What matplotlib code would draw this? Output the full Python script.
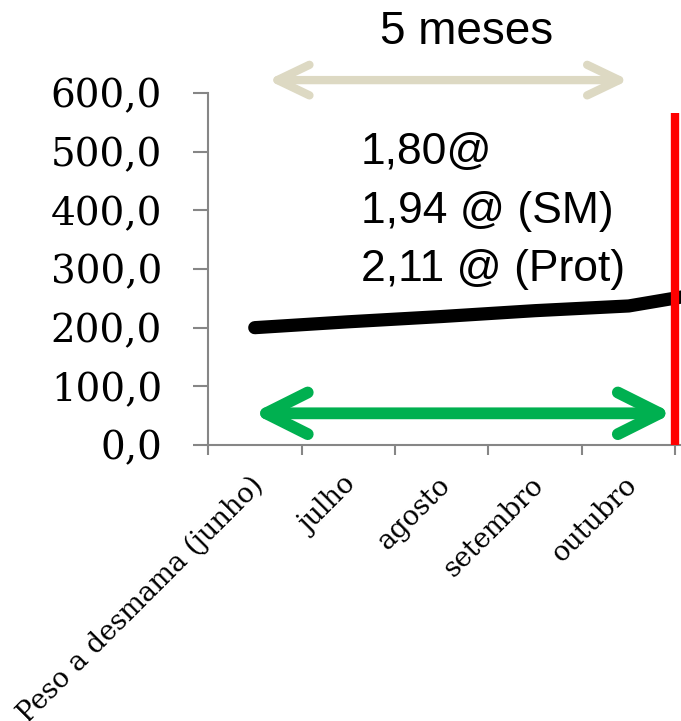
import numpy as np
import matplotlib.pyplot as plt
from matplotlib.patches import FancyArrowPatch
import matplotlib.transforms as mtransforms

meses = ['Peso a desmama (junho)', 'julho', 'agosto', 'setembro', 'outubro', '']
peso = [200, 210, 219, 229, 237, 264]
yticks = [0, 100, 200, 300, 400, 500, 600]
ytick_labels = ['0,0', '100,0', '200,0', '300,0', '400,0', '500,0', '600,0']
notas = ['1,80@', '1,94 @ (SM)', '2,11 @ (Prot)']

fig = plt.figure(figsize=(6.81, 7.21), dpi=100)
ax = fig.add_axes([208/681, 276/721, 561/681, 352/721])

x = np.arange(len(meses))
ax.plot(x, peso, color='black', lw=9.5, solid_capstyle='round', clip_on=False, zorder=3)

ax.set_xlim(-0.5, len(meses) - 0.5)
ax.set_ylim(0, 600)

for s in ['top', 'right']:
    ax.spines[s].set_visible(False)
for s in ['left', 'bottom']:
    ax.spines[s].set_color('#868686')
    ax.spines[s].set_linewidth(1.5)

ax.set_yticks(yticks)
ax.set_yticklabels(ytick_labels, fontfamily='DejaVu Serif', fontsize=28)
ax.tick_params(axis='y', length=11, width=1.5, color='#868686', pad=22)

# boundaries as major ticks, category names on minor ticks
ax.set_xticks(np.arange(-0.5, len(meses), 1.0))
ax.set_xticklabels([])
ax.tick_params(axis='x', which='major', length=7.5, width=1.5, color='#868686')
ax.set_xticks(x, minor=True)
ax.set_xticklabels(meses, minor=True, fontfamily='DejaVu Serif', fontsize=19.5,
                   rotation=45, ha='right', va='top', rotation_mode='anchor')
ax.tick_params(axis='x', which='minor', length=0, pad=19)
offset = mtransforms.ScaledTranslation(-5/100, 0, fig.dpi_scale_trans)
for lab in ax.get_xticklabels(minor=True):
    lab.set_transform(lab.get_transform() + offset)

# red marker line
ax.plot([4.5, 4.5], [0, 566], color='#FF0000', lw=6, solid_capstyle='butt', clip_on=False, zorder=4)

# green arrow
seta = FancyArrowPatch((-0.02, 54), (4.47, 54), arrowstyle='<->,head_length=3,head_width=1.5',
                       mutation_scale=10, color='#00B050', lw=8.5, capstyle='round',
                       joinstyle='round', shrinkA=0, shrinkB=0, clip_on=False, zorder=3)
ax.add_patch(seta)

# beige arrow above the axes
seta2 = FancyArrowPatch((0.14, 622), (4.0, 622), arrowstyle='<->,head_length=2.3,head_width=1.1',
                        mutation_scale=10, color='#DDD9C3', lw=6, capstyle='round',
                        joinstyle='round', shrinkA=0, shrinkB=0, clip_on=False, zorder=3)
ax.add_patch(seta2)

fig.text(467/681, 1 - 32/721, '5 meses', fontfamily='Liberation Sans', fontsize=33,
         ha='center', va='center')
for i, t in enumerate(notas):
    fig.text(361/681, 1 - (153 + 58*i)/721, t, fontfamily='Liberation Sans', fontsize=32,
             ha='left', va='center')

fig.savefig('out.png', dpi=100)
